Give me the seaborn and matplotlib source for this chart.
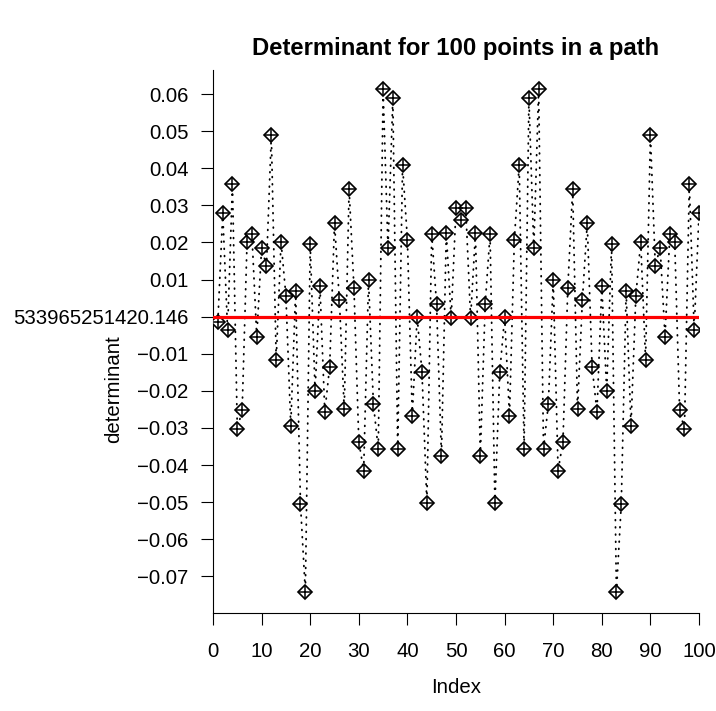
import matplotlib
matplotlib.use("Agg")
import matplotlib.pyplot as plt
import seaborn as sns
import pandas as pd

# --- Data ---
index = list(range(1, 101))
determinant = [
    -0.0013, 0.0280, -0.0036, 0.0358, -0.0304, -0.0251, 0.0200, 0.0223, -0.0054, 0.0186,
    0.0137, 0.0490, -0.0117, 0.0202, 0.0056, -0.0294, 0.0069, -0.0506, -0.0743, 0.0195,
    -0.0200, 0.0083, -0.0257, -0.0135, 0.0253, 0.0045, -0.0250, 0.0344, 0.0078, -0.0337,
    -0.0415, 0.0099, -0.0235, -0.0357, 0.0613, 0.0184, 0.0589, -0.0357, 0.0409, 0.0207,
    -0.0267, 0.0000, -0.0150, -0.0503, 0.0223, 0.0033, -0.0375, 0.0226, -0.0004, 0.0292,
    0.0261, 0.0292, -0.0004, 0.0226, -0.0375, 0.0033, 0.0223, -0.0503, -0.0150, 0.0000,
    -0.0267, 0.0207, 0.0409, -0.0357, 0.0589, 0.0184, 0.0613, -0.0357, -0.0235, 0.0099,
    -0.0415, -0.0337, 0.0078, 0.0344, -0.0250, 0.0045, 0.0253, -0.0135, -0.0257, 0.0083,
    -0.0200, 0.0195, -0.0743, -0.0506, 0.0069, -0.0294, 0.0056, 0.0202, -0.0117, 0.0490,
    0.0137, 0.0186, -0.0054, 0.0223, 0.0200, -0.0251, -0.0304, 0.0358, -0.0036, 0.0280,
]
mean_line = 0.0
x_ticks = [0, 10, 20, 30, 40, 50, 60, 70, 80, 90, 100]
y_ticks = [-0.07, -0.06, -0.05, -0.04, -0.03, -0.02, -0.01, 0.0,
           0.01, 0.02, 0.03, 0.04, 0.05, 0.06]
y_tick_labels = ["\u22120.07", "\u22120.06", "\u22120.05", "\u22120.04", "\u22120.03",
                 "\u22120.02", "\u22120.01", "533965251420.146",
                 "0.01", "0.02", "0.03", "0.04", "0.05", "0.06"]

df = pd.DataFrame({"Index": index, "determinant": determinant})

# --- Style ---
sns.set_theme(style="white")
plt.rcParams["font.family"] = ["Liberation Sans", "DejaVu Sans"]
plt.rcParams["axes.unicode_minus"] = True

fig = plt.figure(figsize=(7.16, 7.11), dpi=100)
ax = fig.add_axes([0.2975, 0.1378, 0.6788, 0.7637])

# dotted connecting line with diamond markers
sns.lineplot(data=df, x="Index", y="determinant", ax=ax, color="black",
             linewidth=1.3, linestyle=(0, (0.4, 3.6)), dash_capstyle="round",
             marker="D", markersize=7.4, markerfacecolor="white",
             markeredgecolor="black", markeredgewidth=1.2, zorder=3)
# crosses inside the diamonds
sns.scatterplot(data=df, x="Index", y="determinant", ax=ax, marker="+",
                s=10.4 ** 2, color="black", linewidth=1.1, zorder=4)

ax.axhline(mean_line, color="red", linewidth=2.3, zorder=5)

ax.set_xlim(0, 100)
ax.set_ylim(-0.0799, 0.0665)
ax.set_xticks(x_ticks)
ax.set_yticks(y_ticks)
ax.set_yticklabels(y_tick_labels)

ax.tick_params(axis="both", direction="out", length=8.6, width=0.8,
               color="black", labelsize=14.7, labelcolor="black",
               left=True, bottom=True)
ax.tick_params(axis="x", pad=12)
ax.tick_params(axis="y", pad=9)

sns.despine(ax=ax)
for side in ["left", "bottom"]:
    ax.spines[side].set_color("black")
    ax.spines[side].set_linewidth(0.8)

ax.set_xlabel("Index", fontsize=14.7, color="black")
ax.set_ylabel("determinant", fontsize=14.7, color="black")
ax.xaxis.set_label_coords(0.5, -0.12)
ax.yaxis.set_label_coords(-0.185, 0.4125)
ax.set_title("Determinant for 100 points in a path", fontsize=17.2,
             fontweight="bold", color="black", y=1.012)

fig.savefig("out.png", dpi=100)
